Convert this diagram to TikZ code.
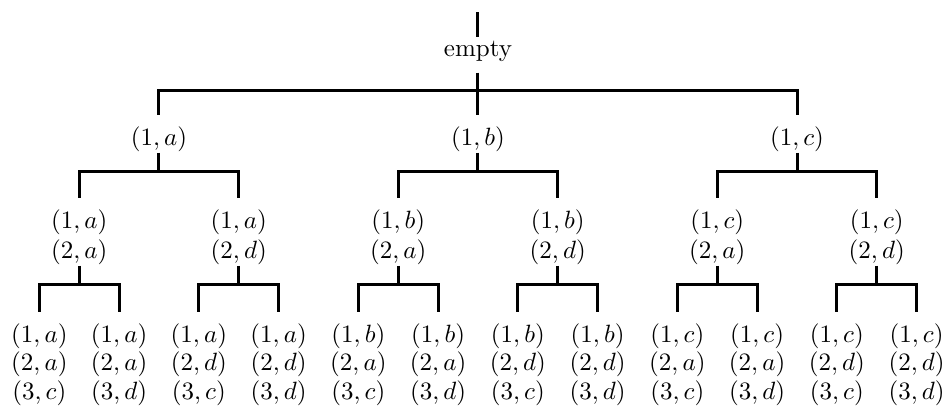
\documentclass[tikz,border=0pt]{standalone}
\usetikzlibrary{positioning}

\tikzset{
    state/.style={inner sep=0pt, align=center},
    leaf/.style={state, font=\fontsize{10pt}{11.4pt}\selectfont},
    link/.style={line width=1.2pt, shorten <=0.4pt, shorten >=4.3pt},
}

\begin{document}
\begin{tikzpicture}
    \useasboundingbox (-191.2pt, 22.6pt) rectangle (186.8pt, -141.4pt);

    % root
    \node [state, anchor=base] (root) at (0, 0) {empty};
    \coordinate (in) at (0, 17.8pt);

    % first choice
    \node [state, below=25.5pt of root, xshift=-127.6pt] (a) {$(1,a)$};
    \node [state, below=25.5pt of root] (b) {$(1,b)$};
    \node [state, below=25.5pt of root, xshift=127.6pt] (c) {$(1,c)$};

    % second choice
    \node [state, below=22.8pt of a, xshift=-31.9pt] (aa) {$(1,a)$\\$(2,a)$};
    \node [state, below=22.8pt of a, xshift=31.9pt] (ad) {$(1,a)$\\$(2,d)$};
    \node [state, below=22.8pt of b, xshift=-31.9pt] (ba) {$(1,b)$\\$(2,a)$};
    \node [state, below=22.8pt of b, xshift=31.9pt] (bd) {$(1,b)$\\$(2,d)$};
    \node [state, below=22.8pt of c, xshift=-31.9pt] (ca) {$(1,c)$\\$(2,a)$};
    \node [state, below=22.8pt of c, xshift=31.9pt] (cd) {$(1,c)$\\$(2,d)$};

    % third choice
    \node [leaf, below=23.2pt of aa, xshift=-15.95pt] (aac) {$(1,a)$\\$(2,a)$\\$(3,c)$};
    \node [leaf, below=23.2pt of aa, xshift=15.95pt] (aad) {$(1,a)$\\$(2,a)$\\$(3,d)$};
    \node [leaf, below=23.2pt of ad, xshift=-15.95pt] (adc) {$(1,a)$\\$(2,d)$\\$(3,c)$};
    \node [leaf, below=23.2pt of ad, xshift=15.95pt] (add) {$(1,a)$\\$(2,d)$\\$(3,d)$};
    \node [leaf, below=23.2pt of ba, xshift=-15.95pt] (bac) {$(1,b)$\\$(2,a)$\\$(3,c)$};
    \node [leaf, below=23.2pt of ba, xshift=15.95pt] (bad) {$(1,b)$\\$(2,a)$\\$(3,d)$};
    \node [leaf, below=23.2pt of bd, xshift=-15.95pt] (bdc) {$(1,b)$\\$(2,d)$\\$(3,c)$};
    \node [leaf, below=23.2pt of bd, xshift=15.95pt] (bdd) {$(1,b)$\\$(2,d)$\\$(3,d)$};
    \node [leaf, below=23.2pt of ca, xshift=-15.95pt] (cac) {$(1,c)$\\$(2,a)$\\$(3,c)$};
    \node [leaf, below=23.2pt of ca, xshift=15.95pt] (cad) {$(1,c)$\\$(2,a)$\\$(3,d)$};
    \node [leaf, below=23.2pt of cd, xshift=-15.95pt] (cdc) {$(1,c)$\\$(2,d)$\\$(3,c)$};
    \node [leaf, below=23.2pt of cd, xshift=15.95pt] (cdd) {$(1,c)$\\$(2,d)$\\$(3,d)$};

    \draw [link, shorten <=0pt, shorten >=1.6pt] (in) -- (root.north);

    \draw [link, shorten <=4.3pt] (root.south) -- ++(0,-11.5pt) -| (a.north);
    \draw [link, shorten <=4.3pt] (root.south) -- ++(0,-11.5pt) -| (b.north);
    \draw [link, shorten <=4.3pt] (root.south) -- ++(0,-11.5pt) -| (c.north);

    \draw [link] (a.south) -- ++(0,-7.8pt) -| (aa.north);
    \draw [link] (a.south) -- ++(0,-7.8pt) -| (ad.north);
    \draw [link] (b.south) -- ++(0,-7.8pt) -| (ba.north);
    \draw [link] (b.south) -- ++(0,-7.8pt) -| (bd.north);
    \draw [link] (c.south) -- ++(0,-7.8pt) -| (ca.north);
    \draw [link] (c.south) -- ++(0,-7.8pt) -| (cd.north);

    \draw [link] (aa.south) -- ++(0,-7.8pt) -| (aac.north);
    \draw [link] (aa.south) -- ++(0,-7.8pt) -| (aad.north);
    \draw [link] (ad.south) -- ++(0,-7.8pt) -| (adc.north);
    \draw [link] (ad.south) -- ++(0,-7.8pt) -| (add.north);
    \draw [link] (ba.south) -- ++(0,-7.8pt) -| (bac.north);
    \draw [link] (ba.south) -- ++(0,-7.8pt) -| (bad.north);
    \draw [link] (bd.south) -- ++(0,-7.8pt) -| (bdc.north);
    \draw [link] (bd.south) -- ++(0,-7.8pt) -| (bdd.north);
    \draw [link] (ca.south) -- ++(0,-7.8pt) -| (cac.north);
    \draw [link] (ca.south) -- ++(0,-7.8pt) -| (cad.north);
    \draw [link] (cd.south) -- ++(0,-7.8pt) -| (cdc.north);
    \draw [link] (cd.south) -- ++(0,-7.8pt) -| (cdd.north);
\end{tikzpicture}
\end{document}
